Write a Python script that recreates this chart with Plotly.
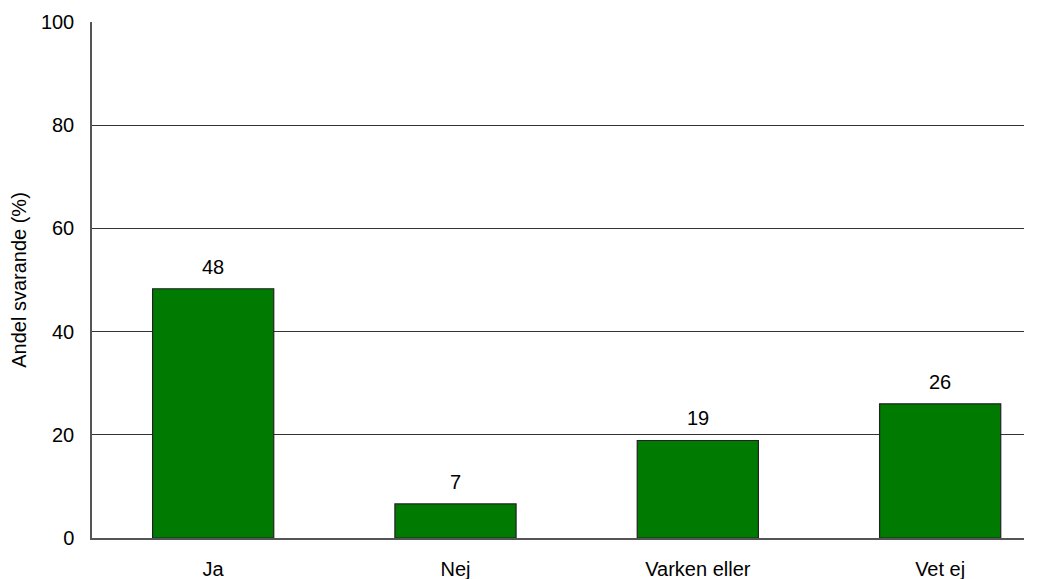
import plotly.graph_objects as go

categories = ["Ja", "Nej", "Varken eller", "Vet ej"]
values = [48.3, 6.6, 18.9, 26.0]
labels = ["48", "7", "19", "26"]
y_ticks = [0, 20, 40, 60, 80, 100]

FONT = "Liberation Sans, Arial"
fig = go.Figure()
fig.add_trace(go.Bar(
    x=categories, y=values,
    marker=dict(color="#007A00", line=dict(color="#222222", width=1.2)),
    width=0.5, hoverinfo="skip", showlegend=False,
))
for c, v, t in zip(categories, values, labels):
    fig.add_annotation(x=c, y=v, text=t, showarrow=False, yanchor="bottom",
                       yshift=9, font=dict(family=FONT, size=20, color="#000000"))

fig.update_layout(
    width=1051, height=579,
    margin=dict(l=84, r=35, t=14, b=49),
    paper_bgcolor="white", plot_bgcolor="white",
    font=dict(family=FONT, size=20, color="#000000"),
    xaxis=dict(range=[-0.5, 3.346], showline=True, linecolor="#555555", linewidth=1.5,
               showgrid=False, ticks="", ticklabelstandoff=12, tickfont=dict(size=20),
               automargin=False),
    yaxis=dict(range=[0, 100], tickvals=y_ticks, showline=True, linecolor="#555555",
               linewidth=1.5, showgrid=True, gridcolor="#333333", gridwidth=1,
               ticks="", ticklabelstandoff=12, zeroline=False, automargin=False,
               title=dict(text="Andel svarande (%)", font=dict(size=20), standoff=12),
               tickfont=dict(size=20)),
)
fig.write_html("out.html")
